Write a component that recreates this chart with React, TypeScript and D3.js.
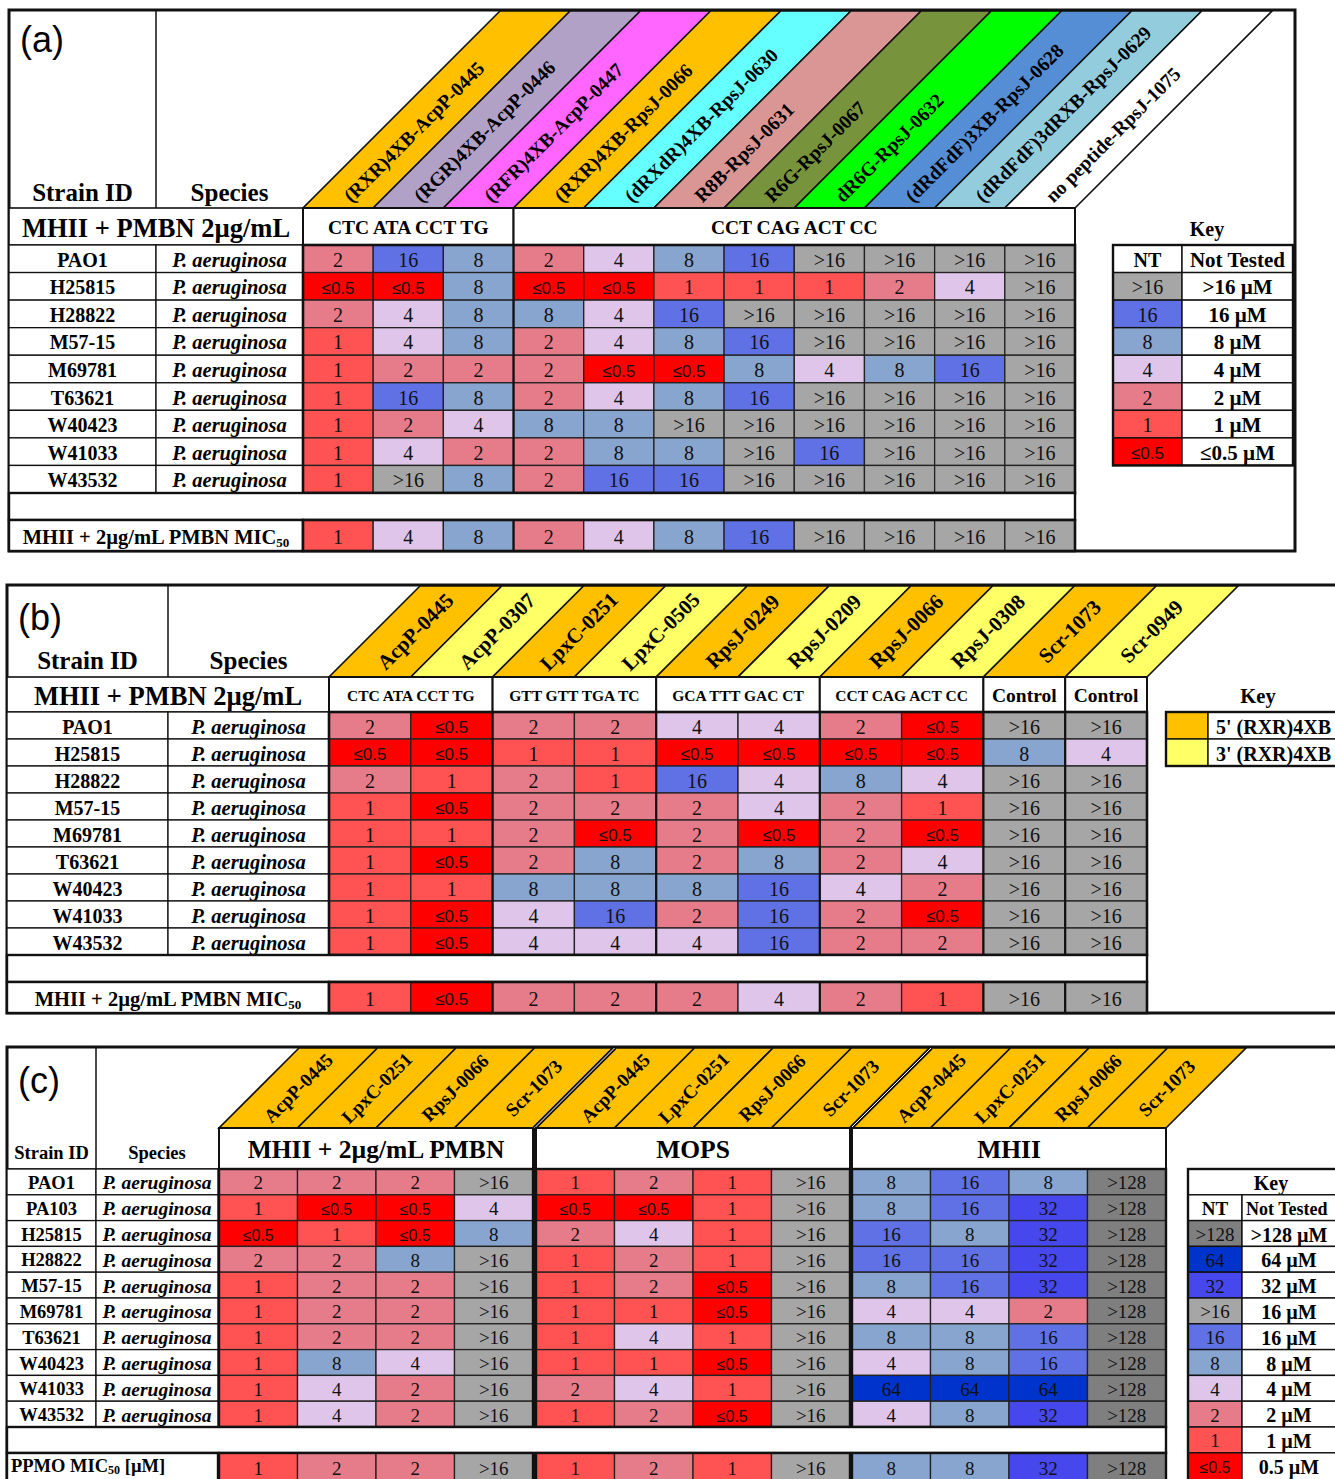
import React from "react";
import * as d3 from "d3";

const SERIF = "'Liberation Serif', 'Times New Roman', serif";
const SANS = "'Liberation Sans', Arial, sans-serif";

// ---------------- shared value colours ----------------
const valueLevels = [">128", "64", "32", ">16", "16", "8", "4", "2", "1", "≤0.5", "NT"];
const valueColors = ["#7f7f7f", "#0033cc", "#4747ee", "#a6a6a6", "#5f71e5", "#87a5cf", "#dfc5e9", "#e67b8a", "#ff5252", "#ff0000", "#ffffff"];

// ---------------- panel (a) ----------------
const aStrains = ["PAO1", "H25815", "H28822", "M57-15", "M69781", "T63621", "W40423", "W41033", "W43532"];
const aPeptides = [
  "(RXR)4XB-AcpP-0445", "(RGR)4XB-AcpP-0446", "(RFR)4XB-AcpP-0447", "(RXR)4XB-RpsJ-0066",
  "(dRXdR)4XB-RpsJ-0630", "R8B-RpsJ-0631", "R6G-RpsJ-0067", "dR6G-RpsJ-0632",
  "(dRdFdF)3XB-RpsJ-0628", "(dRdFdF)3dRXB-RpsJ-0629", "no peptide-RpsJ-1075",
];
const aStripeColors = ["#ffc000", "#b2a1c7", "#ff66ff", "#ffc000", "#66ffff", "#da9694", "#77933c", "#00ff00", "#558ed5", "#93cddd", "#ffffff"];
const aSeqLabels = ["CTC ATA CCT TG", "CCT CAG ACT CC"];
const aSeqSpans = [3, 8];
const aValues = [
  ["2", "16", "8", "2", "4", "8", "16", ">16", ">16", ">16", ">16"],
  ["≤0.5", "≤0.5", "8", "≤0.5", "≤0.5", "1", "1", "1", "2", "4", ">16"],
  ["2", "4", "8", "8", "4", "16", ">16", ">16", ">16", ">16", ">16"],
  ["1", "4", "8", "2", "4", "8", "16", ">16", ">16", ">16", ">16"],
  ["1", "2", "2", "2", "≤0.5", "≤0.5", "8", "4", "8", "16", ">16"],
  ["1", "16", "8", "2", "4", "8", "16", ">16", ">16", ">16", ">16"],
  ["1", "2", "4", "8", "8", ">16", ">16", ">16", ">16", ">16", ">16"],
  ["1", "4", "2", "2", "8", "8", ">16", "16", ">16", ">16", ">16"],
  ["1", ">16", "8", "2", "16", "16", ">16", ">16", ">16", ">16", ">16"],
];
const aMic = ["1", "4", "8", "2", "4", "8", "16", ">16", ">16", ">16", ">16"];
const aKeyValues = ["NT", ">16", "16", "8", "4", "2", "1", "≤0.5"];
const aKeyLabels = ["Not Tested", ">16 µM", "16 µM", "8 µM", "4 µM", "2 µM", "1 µM", "≤0.5 µM"];

// ---------------- panel (b) ----------------
const bStrains = ["PAO1", "H25815", "H28822", "M57-15", "M69781", "T63621", "W40423", "W41033", "W43532"];
const bPeptides = ["AcpP-0445", "AcpP-0307", "LpxC-0251", "LpxC-0505", "RpsJ-0249", "RpsJ-0209", "RpsJ-0066", "RpsJ-0308", "Scr-1073", "Scr-0949"];
const bStripeColors = ["#ffc000", "#ffff66", "#ffc000", "#ffff66", "#ffc000", "#ffff66", "#ffc000", "#ffff66", "#ffc000", "#ffff66"];
const bSeqLabels = ["CTC ATA CCT TG", "GTT GTT TGA TC", "GCA TTT GAC CT", "CCT CAG ACT CC", "Control", "Control"];
const bSeqSpans = [2, 2, 2, 2, 1, 1];
const bValues = [
  ["2", "≤0.5", "2", "2", "4", "4", "2", "≤0.5", ">16", ">16"],
  ["≤0.5", "≤0.5", "1", "1", "≤0.5", "≤0.5", "≤0.5", "≤0.5", "8", "4"],
  ["2", "1", "2", "1", "16", "4", "8", "4", ">16", ">16"],
  ["1", "≤0.5", "2", "2", "2", "4", "2", "1", ">16", ">16"],
  ["1", "1", "2", "≤0.5", "2", "≤0.5", "2", "≤0.5", ">16", ">16"],
  ["1", "≤0.5", "2", "8", "2", "8", "2", "4", ">16", ">16"],
  ["1", "1", "8", "8", "8", "16", "4", "2", ">16", ">16"],
  ["1", "≤0.5", "4", "16", "2", "16", "2", "≤0.5", ">16", ">16"],
  ["1", "≤0.5", "4", "4", "4", "16", "2", "2", ">16", ">16"],
];
const bMic = ["1", "≤0.5", "2", "2", "2", "4", "2", "1", ">16", ">16"];
const bKeyColors = ["#ffc000", "#ffff66"];
const bKeyLabels = ["5' (RXR)4XB", "3' (RXR)4XB"];

// ---------------- panel (c) ----------------
const cStrains = ["PAO1", "PA103", "H25815", "H28822", "M57-15", "M69781", "T63621", "W40423", "W41033", "W43532"];
const cGroups = ["MHII + 2µg/mL PMBN", "MOPS", "MHII"];
const cPeptides = ["AcpP-0445", "LpxC-0251", "RpsJ-0066", "Scr-1073"];
const cValues = [
  ["2", "2", "2", ">16", "1", "2", "1", ">16", "8", "16", "8", ">128"],
  ["1", "≤0.5", "≤0.5", "4", "≤0.5", "≤0.5", "1", ">16", "8", "16", "32", ">128"],
  ["≤0.5", "1", "≤0.5", "8", "2", "4", "1", ">16", "16", "8", "32", ">128"],
  ["2", "2", "8", ">16", "1", "2", "1", ">16", "16", "16", "32", ">128"],
  ["1", "2", "2", ">16", "1", "2", "≤0.5", ">16", "8", "16", "32", ">128"],
  ["1", "2", "2", ">16", "1", "1", "≤0.5", ">16", "4", "4", "2", ">128"],
  ["1", "2", "2", ">16", "1", "4", "1", ">16", "8", "8", "16", ">128"],
  ["1", "8", "4", ">16", "1", "1", "≤0.5", ">16", "4", "8", "16", ">128"],
  ["1", "4", "2", ">16", "2", "4", "1", ">16", "64", "64", "64", ">128"],
  ["1", "4", "2", ">16", "1", "2", "≤0.5", ">16", "4", "8", "32", ">128"],
];
const cMic = ["1", "2", "2", ">16", "1", "2", "1", ">16", "8", "8", "32", ">128"];
const cKeyValues = ["NT", ">128", "64", "32", ">16", "16", "8", "4", "2", "1", "≤0.5"];
const cKeyLabels = ["Not Tested", ">128 µM", "64 µM", "32 µM", "16 µM", "16 µM", "8 µM", "4 µM", "2 µM", "1 µM", "0.5 µM"];

// ---------------- helpers ----------------
const color = d3.scaleOrdinal<string, string>().domain(valueLevels).range(valueColors);
type Pt = [number, number];
const poly = (pts: Pt[]) => pts.map((p) => p.join(",")).join(" ");

function CellText({ cx, cy, v, size }: { cx: number; cy: number; v: string; size: number }) {
  const small = v.startsWith("≤");
  return (
    <text x={cx} y={cy + (small ? 2 : 1)} textAnchor="middle" dominantBaseline="central"
      fontFamily={small ? SANS : SERIF} fontSize={small ? Math.round(size * 0.84) : size} fill="#111">
      {v}
    </text>
  );
}

function Cell({ x, y, w, h, v, size }: any) {
  return (
    <g>
      <rect x={x} y={y} width={w} height={h} fill={color(v)} stroke="#222" strokeWidth={1.3} />
      <CellText cx={x + w / 2} cy={y + h / 2} v={v} size={size} />
    </g>
  );
}

function Stripes({ xs, bw, yb, yt, colors, labels, fontSize, mode, offset }: any) {
  const dy = yb - yt;
  return (
    <g>
      {xs.map((x0: number, i: number) => (
        <polygon key={"p" + i} points={poly([[x0, yb], [x0 + bw, yb], [x0 + bw + dy, yt], [x0 + dy, yt]])}
          fill={colors[i]} stroke="#111" strokeWidth={1.6} />
      ))}
      {xs.map((x0: number, i: number) => {
        const cxb = x0 + bw / 2;
        let tx: number, ty: number, anchor: string;
        if (mode === "start") {
          ty = yb - offset; tx = cxb + offset; anchor = "start";
        } else {
          ty = (yb + yt) / 2; tx = cxb + dy / 2; anchor = "middle";
        }
        return (
          <text key={"t" + i} transform={`translate(${tx},${ty}) rotate(-45)`} textAnchor={anchor}
            dominantBaseline="central" fontFamily={SERIF} fontWeight="bold" fontSize={fontSize}>
            {labels[i]}
          </text>
        );
      })}
    </g>
  );
}

function bold(x: number, y: number, s: string, size: number, extra: any = {}) {
  return (
    <text x={x} y={y} textAnchor="middle" dominantBaseline="central" fontFamily={SERIF} fontWeight="bold" fontSize={size} {...extra}>
      {s}
    </text>
  );
}

// ---------------- panel (a) ----------------
function PanelA() {
  const L = 9, T = 10, R = 1295, Bm = 551, c1 = 156, c2 = 303, dR = 1075, hT = 208, rT = 245, rB = 493, mT = 520;
  const x = d3.scaleBand<number>().domain(d3.range(aPeptides.length)).range([c2, dR]);
  const y = d3.scaleBand<string>().domain(aStrains).range([rT, rB]);
  const bw = x.bandwidth(), rh = y.bandwidth();
  let acc = 0;
  const seqs = aSeqLabels.map((s, i) => {
    const start = acc; acc += aSeqSpans[i];
    return { s, x0: x(start)!, x1: x(acc - 1)! + bw };
  });
  const kx0 = 1113, kx1 = 1182, kx2 = 1293;
  return (
    <g>
      <rect x={L} y={T} width={R - L} height={Bm - T} fill="white" stroke="#111" strokeWidth={3} />
      <Stripes xs={aPeptides.map((_, i) => x(i)!)} bw={bw} yb={hT} yt={T + 1} colors={aStripeColors}
        labels={aPeptides} fontSize={19.5} mode="start" offset={9} />
      <text x={20} y={52} fontFamily={SANS} fontSize={36}>(a)</text>
      <line x1={c1} y1={T} x2={c1} y2={hT} stroke="#111" strokeWidth={1.5} />
      {bold((L + c1) / 2, 192, "Strain ID", 25)}
      {bold((c1 + c2) / 2, 192, "Species", 25)}
      <rect x={L} y={hT} width={c2 - L} height={rT - hT} fill="white" stroke="#111" strokeWidth={1.6} />
      {bold((L + c2) / 2, (hT + rT) / 2 + 1, "MHII + PMBN 2µg/mL", 26.5)}
      {seqs.map((s, i) => (
        <g key={"s" + i}>
          <rect x={s.x0} y={hT} width={s.x1 - s.x0} height={rT - hT} fill="white" stroke="#111" strokeWidth={2} />
          {bold((s.x0 + s.x1) / 2, (hT + rT) / 2 + 1, s.s, 19.5)}
        </g>
      ))}
      {aStrains.map((st, r) => (
        <g key={"r" + r}>
          <rect x={L} y={y(st)!} width={c1 - L} height={rh} fill="white" stroke="#111" strokeWidth={1.3} />
          <rect x={c1} y={y(st)!} width={c2 - c1} height={rh} fill="white" stroke="#111" strokeWidth={1.3} />
          {bold((L + c1) / 2, y(st)! + rh / 2 + 1, st, 20)}
          {bold((c1 + c2) / 2, y(st)! + rh / 2 + 1, "P. aeruginosa", 20.5, { fontStyle: "italic" })}
          {aValues[r].map((v, i) => (
            <Cell key={"c" + i} x={x(i)!} y={y(st)!} w={bw} h={rh} v={v} size={20} />
          ))}
        </g>
      ))}
      <rect x={c2} y={rT} width={dR - c2} height={rB - rT} fill="none" stroke="#111" strokeWidth={2.6} />
      <line x1={seqs[1].x0} y1={rT} x2={seqs[1].x0} y2={rB} stroke="#111" strokeWidth={2.2} />
      <rect x={L} y={rB} width={dR - L} height={mT - rB} fill="white" stroke="#111" strokeWidth={2.4} />
      <rect x={L} y={mT} width={c2 - L} height={Bm - mT} fill="white" stroke="#111" strokeWidth={2.4} />
      <text x={(L + c2) / 2} y={(mT + Bm) / 2 + 1} textAnchor="middle" dominantBaseline="central" fontFamily={SERIF} fontWeight="bold" fontSize={20.5}>
        MHII + 2µg/mL PMBN MIC<tspan fontSize={13} dy={5}>50</tspan>
      </text>
      {aMic.map((v, i) => (
        <Cell key={"m" + i} x={x(i)!} y={mT} w={bw} h={Bm - mT} v={v} size={20} />
      ))}
      <rect x={c2} y={mT} width={dR - c2} height={Bm - mT} fill="none" stroke="#111" strokeWidth={2.6} />
      <line x1={seqs[1].x0} y1={mT} x2={seqs[1].x0} y2={Bm} stroke="#111" strokeWidth={2.2} />
      {bold((kx0 + kx2) / 2 + 4, 229, "Key", 20)}
      {aKeyValues.map((v, i) => {
        const yy = rT + i * rh;
        return (
          <g key={"k" + i}>
            <rect x={kx0} y={yy} width={kx1 - kx0} height={rh} fill={color(v)} stroke="#111" strokeWidth={1.4} />
            {i === 0 ? bold((kx0 + kx1) / 2, yy + rh / 2 + 1, v, 20) : <CellText cx={(kx0 + kx1) / 2} cy={yy + rh / 2} v={v} size={20} />}
            <rect x={kx1} y={yy} width={kx2 - kx1} height={rh} fill="white" stroke="#111" strokeWidth={1.4} />
            {bold((kx1 + kx2) / 2, yy + rh / 2 + 1, aKeyLabels[i], 21)}
          </g>
        );
      })}
      <rect x={kx0} y={rT} width={kx2 - kx0} height={rh * aKeyValues.length} fill="none" stroke="#111" strokeWidth={2.4} />
    </g>
  );
}

// ---------------- panel (b) ----------------
function PanelB() {
  const L = 7, T = 585, R = 1345, Bm = 1013, c1 = 168, c2 = 329, dR = 1147, hT = 677, rT = 712, rB = 955, mT = 982;
  const x = d3.scaleBand<number>().domain(d3.range(bPeptides.length)).range([c2, dR]);
  const y = d3.scaleBand<string>().domain(bStrains).range([rT, rB]);
  const bw = x.bandwidth(), rh = y.bandwidth();
  let acc = 0;
  const seqs = bSeqLabels.map((s, i) => {
    const start = acc; acc += bSeqSpans[i];
    return { s, x0: x(start)!, x1: x(acc - 1)! + bw };
  });
  const kx0 = 1166, kx1 = 1208, kx2 = 1345;
  return (
    <g>
      <rect x={L} y={T} width={R - L} height={Bm - T} fill="white" stroke="#111" strokeWidth={3} />
      <Stripes xs={bPeptides.map((_, i) => x(i)!)} bw={bw} yb={hT} yt={T + 1} colors={bStripeColors}
        labels={bPeptides} fontSize={21} mode="middle" offset={0} />
      <text x={18} y={630} fontFamily={SANS} fontSize={36}>(b)</text>
      <line x1={c1} y1={T} x2={c1} y2={hT} stroke="#111" strokeWidth={1.5} />
      {bold((L + c1) / 2, 660, "Strain ID", 25)}
      {bold((c1 + c2) / 2, 660, "Species", 25)}
      <rect x={L} y={hT} width={c2 - L} height={rT - hT} fill="white" stroke="#111" strokeWidth={1.6} />
      {bold((L + c2) / 2, (hT + rT) / 2 + 1, "MHII + PMBN 2µg/mL", 26.5)}
      {seqs.map((s, i) => (
        <g key={"s" + i}>
          <rect x={s.x0} y={hT} width={s.x1 - s.x0} height={rT - hT} fill="white" stroke="#111" strokeWidth={2} />
          {bold((s.x0 + s.x1) / 2, (hT + rT) / 2 + 1, s.s, s.s === "Control" ? 19.5 : 15.5)}
        </g>
      ))}
      {bStrains.map((st, r) => (
        <g key={"r" + r}>
          <rect x={L} y={y(st)!} width={c1 - L} height={rh} fill="white" stroke="#111" strokeWidth={1.3} />
          <rect x={c1} y={y(st)!} width={c2 - c1} height={rh} fill="white" stroke="#111" strokeWidth={1.3} />
          {bold((L + c1) / 2, y(st)! + rh / 2 + 1, st, 20)}
          {bold((c1 + c2) / 2, y(st)! + rh / 2 + 1, "P. aeruginosa", 20.5, { fontStyle: "italic" })}
          {bValues[r].map((v, i) => (
            <Cell key={"c" + i} x={x(i)!} y={y(st)!} w={bw} h={rh} v={v} size={20} />
          ))}
        </g>
      ))}
      <rect x={c2} y={rT} width={dR - c2} height={rB - rT} fill="none" stroke="#111" strokeWidth={2.6} />
      {seqs.slice(1).map((s, i) => (
        <line key={"g" + i} x1={s.x0} y1={rT} x2={s.x0} y2={rB} stroke="#111" strokeWidth={2.2} />
      ))}
      <rect x={L} y={rB} width={dR - L} height={mT - rB} fill="white" stroke="#111" strokeWidth={2.4} />
      <rect x={L} y={mT} width={c2 - L} height={Bm - mT} fill="white" stroke="#111" strokeWidth={2.4} />
      <text x={(L + c2) / 2} y={(mT + Bm) / 2 + 1} textAnchor="middle" dominantBaseline="central" fontFamily={SERIF} fontWeight="bold" fontSize={20.5}>
        MHII + 2µg/mL PMBN MIC<tspan fontSize={13} dy={5}>50</tspan>
      </text>
      {bMic.map((v, i) => (
        <Cell key={"m" + i} x={x(i)!} y={mT} w={bw} h={Bm - mT} v={v} size={20} />
      ))}
      <rect x={c2} y={mT} width={dR - c2} height={Bm - mT} fill="none" stroke="#111" strokeWidth={2.6} />
      {seqs.slice(1).map((s, i) => (
        <line key={"h" + i} x1={s.x0} y1={mT} x2={s.x0} y2={Bm} stroke="#111" strokeWidth={2.2} />
      ))}
      {bold(1258, 696, "Key", 20.5)}
      {bKeyLabels.map((lab, i) => {
        const yy = rT + i * rh;
        return (
          <g key={"k" + i}>
            <rect x={kx0} y={yy} width={kx1 - kx0} height={rh} fill={bKeyColors[i]} stroke="#111" strokeWidth={1.4} />
            <rect x={kx1} y={yy} width={kx2 - kx1} height={rh} fill="white" stroke="#111" strokeWidth={1.4} />
            <text x={kx1 + 8} y={yy + rh / 2 + 1} dominantBaseline="central" fontFamily={SERIF} fontWeight="bold" fontSize={20}>{lab}</text>
          </g>
        );
      })}
      <rect x={kx0} y={rT} width={kx2 - kx0} height={rh * 2} fill="none" stroke="#111" strokeWidth={2.4} />
    </g>
  );
}

// ---------------- panel (c) ----------------
function PanelC() {
  const L = 7, T = 1047, R = 1345, Bm = 1481, c1 = 96, c2 = 218, hT = 1128, rT = 1169, rB = 1427, mT = 1453;
  const groupStarts = [219, 536, 852];
  const groupW = 314;
  const gx = d3.scaleBand<number>().domain(d3.range(cPeptides.length)).range([0, groupW]);
  const bw = gx.bandwidth();
  const colX = (i: number) => groupStarts[Math.floor(i / cPeptides.length)] + gx(i % cPeptides.length)!;
  const nCols = cGroups.length * cPeptides.length;
  const y = d3.scaleBand<string>().domain(cStrains).range([rT, rB]);
  const rh = y.bandwidth();
  const dR = groupStarts[2] + groupW;
  const stripeLabels = d3.range(nCols).map((i) => cPeptides[i % cPeptides.length]);
  const dy = hT - (T + 1);
  const kx0 = 1188, kx1 = 1242, kx2 = 1345;
  const sepXs = [groupStarts[1] - 1.5, groupStarts[2] - 1];
  return (
    <g>
      <rect x={L} y={T} width={R - L} height={Bm - T} fill="white" stroke="#111" strokeWidth={3} />
      <Stripes xs={d3.range(nCols).map(colX)} bw={bw} yb={hT} yt={T + 1} colors={d3.range(nCols).map(() => "#ffc000")}
        labels={stripeLabels} fontSize={19} mode="middle" offset={0} />
      {sepXs.map((sx, i) => (
        <g key={"d" + i}>
          <line x1={sx} y1={hT} x2={sx + dy} y2={T + 1} stroke="#111" strokeWidth={4} />
          <line x1={sx} y1={hT} x2={sx + dy} y2={T + 1} stroke="#fff" strokeWidth={1} />
        </g>
      ))}
      <text x={18} y={1093} fontFamily={SANS} fontSize={36}>(c)</text>
      <line x1={c1} y1={T} x2={c1} y2={rT} stroke="#111" strokeWidth={1.5} />
      {bold((L + c1) / 2, 1153, "Strain ID", 18.5)}
      {bold((c1 + c2) / 2, 1153, "Species", 18.5)}
      <line x1={L} y1={rT} x2={c2} y2={rT} stroke="#111" strokeWidth={1.5} />
      {cGroups.map((g, i) => (
        <g key={"g" + i}>
          <rect x={groupStarts[i]} y={hT} width={groupW} height={rT - hT} fill="white" stroke="#111" strokeWidth={2} />
          {bold(groupStarts[i] + groupW / 2, (hT + rT) / 2 + 1, g, 25.5)}
        </g>
      ))}
      {cStrains.map((st, r) => (
        <g key={"r" + r}>
          <rect x={L} y={y(st)!} width={c1 - L} height={rh} fill="white" stroke="#111" strokeWidth={1.3} />
          <rect x={c1} y={y(st)!} width={c2 - c1} height={rh} fill="white" stroke="#111" strokeWidth={1.3} />
          {bold((L + c1) / 2, y(st)! + rh / 2 + 1, st, 18.5)}
          {bold((c1 + c2) / 2, y(st)! + rh / 2 + 1, "P. aeruginosa", 19.5, { fontStyle: "italic" })}
          {cValues[r].map((v, i) => (
            <Cell key={"c" + i} x={colX(i)} y={y(st)!} w={bw} h={rh} v={v} size={19} />
          ))}
        </g>
      ))}
      {groupStarts.map((gs, i) => (
        <rect key={"o" + i} x={gs} y={rT} width={groupW} height={rB - rT} fill="none" stroke="#111" strokeWidth={2.4} />
      ))}
      <rect x={L} y={rB} width={dR - L} height={mT - rB} fill="white" stroke="#111" strokeWidth={2.4} />
      <rect x={L} y={mT} width={c2 - L} height={Bm - mT} fill="white" stroke="#111" strokeWidth={2.4} />
      <text x={11} y={1466} dominantBaseline="central" fontFamily={SERIF} fontWeight="bold" fontSize={18.5}>
        PPMO MIC<tspan fontSize={12} dy={4}>50</tspan><tspan dy={-4}> [µM]</tspan>
      </text>
      {cMic.map((v, i) => (
        <Cell key={"m" + i} x={colX(i)} y={mT} w={bw} h={Bm - mT} v={v} size={19} />
      ))}
      {groupStarts.map((gs, i) => (
        <rect key={"q" + i} x={gs} y={mT} width={groupW} height={Bm - mT} fill="none" stroke="#111" strokeWidth={2.4} />
      ))}
      {sepXs.map((sx, i) => (
        <g key={"v" + i}>
          <line x1={sx} y1={hT} x2={sx} y2={rB} stroke="#111" strokeWidth={4} />
          <line x1={sx} y1={mT} x2={sx} y2={Bm} stroke="#111" strokeWidth={4} />
        </g>
      ))}
      <rect x={kx0} y={rT} width={kx2 - kx0} height={rh} fill="white" stroke="#111" strokeWidth={1.4} />
      {bold(1271, rT + rh / 2 + 1, "Key", 20)}
      {cKeyValues.map((v, i) => {
        const yy = rT + (i + 1) * rh;
        const h = i === cKeyValues.length - 1 ? Bm - yy : rh;
        const first = i === 0;
        return (
          <g key={"k" + i}>
            <rect x={kx0} y={yy} width={kx1 - kx0} height={h} fill={color(v)} stroke="#111" strokeWidth={1.4} />
            {first ? bold((kx0 + kx1) / 2, yy + rh / 2 + 1, v, 19) : <CellText cx={(kx0 + kx1) / 2} cy={yy + rh / 2} v={v} size={19} />}
            <rect x={kx1} y={yy} width={kx2 - kx1} height={h} fill="white" stroke="#111" strokeWidth={1.4} />
            <text x={first ? kx1 + 4 : kx1 + 47} y={yy + rh / 2 + 1} dominantBaseline="central" fontFamily={SERIF} fontWeight="bold"
              fontSize={first ? 18 : 20} textAnchor={first ? "start" : "middle"}>
              {cKeyLabels[i]}
            </text>
          </g>
        );
      })}
      <rect x={kx0} y={rT} width={kx2 - kx0} height={Bm - rT} fill="none" stroke="#111" strokeWidth={2.4} />
    </g>
  );
}

export default function App() {
  return (
    <svg width={1335} height={1479} viewBox="0 0 1335 1479"
      style={{ position: "absolute", left: 0, top: 0, background: "white", display: "block" }}>
      <rect x={0} y={0} width={1335} height={1479} fill="white" />
      <PanelA />
      <PanelB />
      <PanelC />
    </svg>
  );
}
